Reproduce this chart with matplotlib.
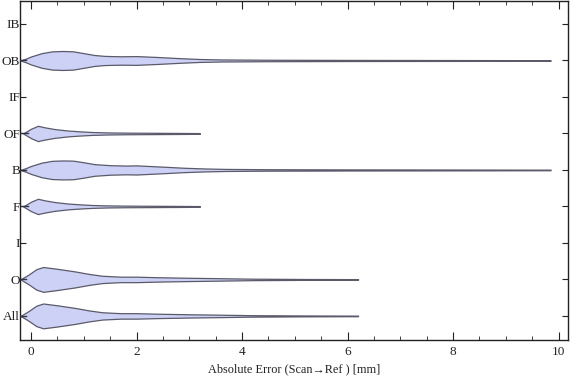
import matplotlib
matplotlib.use('Agg')

import numpy as np
import matplotlib.pyplot as plt
from matplotlib.ticker import MultipleLocator

categories = ["IB", "OB", "IF", "OF", "B", "F", "I", "O", "All"]

# violin profiles: error value [mm] and half width (in category units)
ob_x = [-0.2, -0.1, 0.0, 0.2, 0.4, 0.6, 0.8, 1.0, 1.2, 1.4, 1.7, 2.0, 2.4, 2.8, 3.2, 3.6, 4.5, 6.0, 8.0, 9.85]
ob_w = [0.0, 0.05, 0.11, 0.2, 0.25, 0.26, 0.25, 0.2, 0.15, 0.125, 0.115, 0.12, 0.095, 0.065, 0.04, 0.028, 0.02, 0.015, 0.012, 0.008]

b_x = [-0.2, -0.1, 0.0, 0.2, 0.4, 0.6, 0.8, 1.0, 1.2, 1.5, 1.8, 2.0, 2.5, 2.9, 3.3, 3.7, 4.5, 6.0, 8.0, 9.85]
b_w = [0.0, 0.05, 0.11, 0.2, 0.25, 0.26, 0.255, 0.21, 0.16, 0.13, 0.12, 0.125, 0.09, 0.06, 0.04, 0.028, 0.02, 0.015, 0.012, 0.008]

of_x = [-0.15, 0.0, 0.13, 0.25, 0.45, 0.7, 0.9, 1.15, 1.45, 1.8, 2.3, 2.8, 3.2]
of_w = [0.0, 0.13, 0.21, 0.17, 0.12, 0.08, 0.06, 0.04, 0.028, 0.022, 0.018, 0.014, 0.01]

f_x = [-0.15, 0.0, 0.13, 0.25, 0.45, 0.7, 0.9, 1.15, 1.45, 1.8, 2.3, 2.8, 3.2]
f_w = [0.0, 0.13, 0.21, 0.17, 0.12, 0.08, 0.06, 0.04, 0.028, 0.022, 0.018, 0.014, 0.01]

o_x = [-0.2, -0.05, 0.1, 0.23, 0.5, 0.83, 1.1, 1.35, 1.7, 2.0, 2.4, 3.0, 3.5, 4.2, 5.2, 6.2]
o_w = [0.0, 0.13, 0.28, 0.34, 0.29, 0.22, 0.15, 0.1, 0.075, 0.075, 0.06, 0.045, 0.035, 0.02, 0.012, 0.008]

all_x = [-0.2, -0.05, 0.1, 0.23, 0.5, 0.83, 1.1, 1.35, 1.7, 2.0, 2.4, 3.0, 3.5, 4.2, 5.2, 6.2]
all_w = [0.0, 0.13, 0.28, 0.34, 0.29, 0.22, 0.15, 0.1, 0.075, 0.075, 0.06, 0.045, 0.035, 0.02, 0.012, 0.008]

violins = {"OB": (ob_x, ob_w), "OF": (of_x, of_w), "B": (b_x, b_w),
           "F": (f_x, f_w), "O": (o_x, o_w), "All": (all_x, all_w)}

plt.rcParams['font.family'] = ['Liberation Serif', 'DejaVu Serif']

fig = plt.figure(figsize=(5.76, 3.81), dpi=100)
ax = fig.add_axes([20 / 576, 41 / 381, 548 / 576, 339 / 381])

for name, (xs, ws) in violins.items():
    y0 = categories.index(name)
    xs = np.array(xs)
    ws = np.array(ws)
    ax.fill_between(xs, y0 - ws, y0 + ws, facecolor='#cdd1f5', edgecolor='#5a5a6a',
                    linewidth=0.9, zorder=2)
    ax.plot([xs[0] - 0.05, xs[0] + 0.1], [y0, y0], color='#333344', lw=1.0, zorder=3)

ax.set_xlim(-0.21, 10.18)
ax.set_ylim(8.66, -0.63)
ax.set_yticks(range(len(categories)))
ax.set_yticklabels(categories)
ax.xaxis.set_major_locator(MultipleLocator(2))
ax.xaxis.set_minor_locator(MultipleLocator(0.5))

ax.tick_params(axis='both', which='both', direction='in', top=True, right=True,
               colors='#222222', labelcolor='#222222', labelsize=9.5)
ax.tick_params(axis='x', which='major', length=6, width=0.8, pad=4)
ax.tick_params(axis='x', which='minor', length=3, width=0.6)
ax.tick_params(axis='y', which='major', length=4, width=0.8, pad=0)

for sp in ax.spines.values():
    sp.set_linewidth(1.0)
    sp.set_color('#222222')

ax.set_xlabel("Absolute Error (Scan\u2192Ref ) [mm]", fontsize=8.8, color='#222222', labelpad=4)

fig.savefig("out.png", dpi=100)
